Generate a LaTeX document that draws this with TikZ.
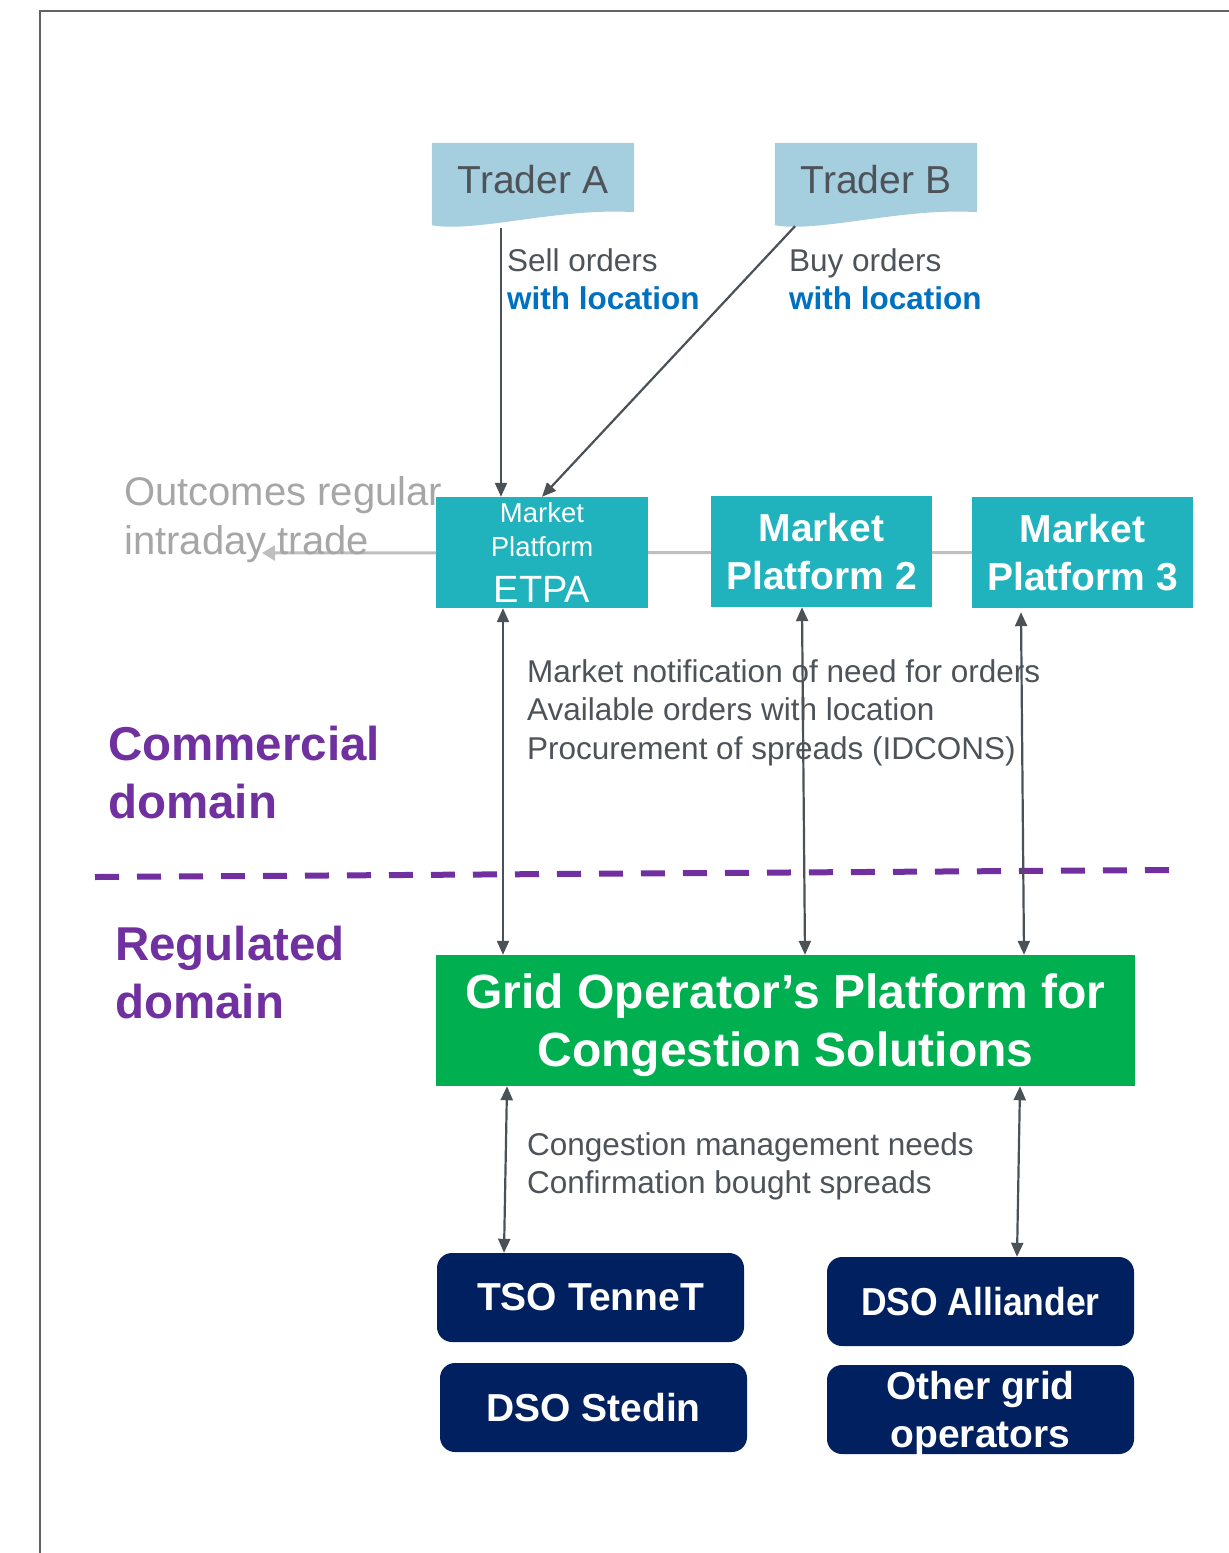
\documentclass[tikz,border=0pt]{standalone}
\usepackage{fontspec}
\setmainfont{Liberation Sans}
\usetikzlibrary{arrows.meta,calc,positioning,backgrounds}
\definecolor{tradercol}{HTML}{A5CEDF}
\definecolor{tealcol}{HTML}{20B2BD}
\definecolor{greencol}{HTML}{00B050}
\definecolor{navycol}{HTML}{002060}
\definecolor{purplecol}{HTML}{7030A0}
\definecolor{bluecol}{HTML}{0070C0}
\definecolor{darkcol}{HTML}{4A5157}
\definecolor{textcol}{HTML}{4D5359}
\definecolor{lightcol}{HTML}{A6A6A6}
\definecolor{linecol}{HTML}{BFBFBF}
\definecolor{framecol}{HTML}{5F6368}
\tikzset{
    frame/.style = {draw=framecol, line width=2pt},
    trader/.style = {inner sep=0pt, minimum width=202pt, minimum height=74pt, text=textcol, font=\fontsize{39}{46}\selectfont},
    platform/.style = {fill=tealcol, text=white, inner sep=0pt, minimum width=221pt, minimum height=111pt, align=center},
    gridop/.style = {fill=navycol, text=white, inner sep=0pt, rounded corners=15pt, minimum width=307pt, minimum height=89pt, align=center, font=\bfseries\fontsize{39}{48}\selectfont},
    flow/.style = {-{Triangle[length=14pt,width=12pt]}, line width=2.2pt, draw=darkcol},
    bidirected/.style = {{Triangle[length=14pt,width=12pt]}-{Triangle[length=14pt,width=12pt]}, line width=2.2pt, draw=darkcol},
    outflow/.style = {-{Triangle[length=13pt,width=15pt]}, line width=3pt, draw=linecol},
    domainline/.style = {draw=purplecol, line width=6pt, dash pattern=on 24pt off 18pt},
    el/.style = {inner sep=0pt, align=left, anchor=west, text=textcol, font=\fontsize{31.5}{38.5}\selectfont},
    dlabel/.style = {inner sep=0pt, align=left, anchor=west, text=purplecol, font=\bfseries\fontsize{47.5}{58}\selectfont}
}

\begin{document}
\begin{tikzpicture}[x=1pt,y=-1pt]
        \useasboundingbox (0,0) rectangle (1229,1553);
        \draw[frame] (40,1553) -- (40,11) -- (1229,11);

        \node[trader] (ta) at (533,180) {Trader A};
        \node[trader] (tb) at (876,180) {Trader B};

        \node[platform, minimum width=212pt, font=\fontsize{27.5}{34}\selectfont] (etpa) at (542,552.5) {Market\\Platform\\[12pt]{\fontsize{38}{34}\selectfont ETPA}};
        \node[platform, font=\bfseries\fontsize{39}{48}\selectfont] (mp2) at (821.5,551.5) {Market\\Platform 2};
        \node[platform, font=\bfseries\fontsize{39}{48}\selectfont] (mp3) at (1082.5,552.5) {Market\\Platform 3};

        \node[fill=greencol, text=white, inner sep=0pt, minimum width=699pt, minimum height=131pt, text depth=0pt, align=center, font=\bfseries\fontsize{48}{58}\selectfont] (gop) at (785.5,1020.5) {Grid Operator’s Platform for\\Congestion Solutions};

        \node[gridop] (tso) at (590.5,1297.5) {TSO TenneT};
        \node[gridop] (sted) at (593.5,1407.5) {DSO Stedin};
        \node[gridop] (all) at (980.5,1301.5) {\scalebox{0.91}[1]{DSO Alliander}};
        \node[gridop, text depth=0pt] (oth) at (980.5,1409.5) {Other grid\\operators};

        \node[el] (sell) at (507,279) {Sell orders\\\textcolor{bluecol}{\bfseries with location}};
        \node[el] (buy) at (789,279) {Buy orders\\\textcolor{bluecol}{\bfseries with location}};
        \node[el, text=lightcol, font=\fontsize{40}{49}\selectfont] (outt) at (124,519.5) {Outcomes regular\\intraday trade};
        \node[el] (need) at (527,712.5) {Market notification of need for orders\\Available orders with location\\Procurement of spreads (IDCONS)};
        \node[el] (cong) at (527,1166.5) {Congestion management needs\\Confirmation bought spreads};

        \node[dlabel] (com) at (108,773) {Commercial\\domain};
        \node[dlabel] (reg) at (115,973) {Regulated\\domain};

        \begin{scope}[on background layer]
        \fill[tradercol] (ta.north west) -- (ta.north east) -- ($(ta.south east)+(0,-5)$) .. controls ($(ta.south east)+(-74,-10)$) and ($(ta.south west)+(43,16)$) .. ($(ta.south west)+(0,8)$) -- cycle;
        \fill[tradercol] (tb.north west) -- (tb.north east) -- ($(tb.south east)+(0,-5)$) .. controls ($(tb.south east)+(-74,-10)$) and ($(tb.south west)+(43,16)$) .. ($(tb.south west)+(0,8)$) -- cycle;
        \coordinate (outc) at (262,553);
        \draw[outflow] (mp3.west) -- (outc);
        \end{scope}

        \coordinate (dl) at (95,877);
        \coordinate (dr) at (1172,870);
        \draw[domainline] (dl) -- (dr);

        \draw[flow] ($(ta.south)+(-32,11)$) -- ($(etpa.north)+(-41,0)$);
        \draw[flow] ($(tb.south)+(-81,9)$) -- (etpa.north);

        \draw[bidirected] ($(etpa.south)+(-39,0)$) -- ($(gop.north)+(-282.5,0)$);
        \draw[bidirected] ($(mp2.south)+(-19.5,0)$) -- ($(gop.north)+(19.5,0)$);
        \draw[bidirected] ($(mp3.south)+(-61.5,4)$) -- ($(gop.north)+(238.5,0)$);

        \draw[bidirected] ($(gop.south)+(-278.5,0)$) -- ($(tso.north)+(-86.5,0)$);
        \draw[bidirected] ($(gop.south)+(234.5,0)$) -- ($(all.north)+(36.5,0)$);
\end{tikzpicture}
\end{document}
